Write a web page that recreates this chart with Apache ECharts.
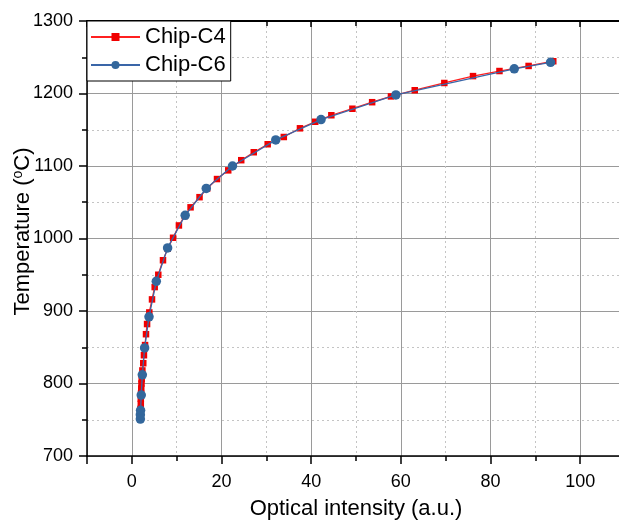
<!DOCTYPE html>
<html>
<head>
<meta charset="utf-8">
<script src="https://cdn.jsdelivr.net/npm/echarts@6/dist/echarts.min.js"></script>
<style>
html,body{margin:0;padding:0;background:#fff;}
#chart{width:619px;height:522px;}
</style>
</head>
<body>
<div id="chart"></div>
<script>
// ---- data ----
const seriesNames = ['Chip-C4', 'Chip-C6'];
const c4Intensity = [1.9,1.9,1.95,2.0,2.0,2.05,2.1,2.15,2.2,2.35,2.55,2.7,2.95,3.16,3.4,3.9,4.5,5.1,5.9,6.95,8.0,9.2,10.5,11.8,13.1,15.1,16.8,19.0,21.5,24.4,27.2,30.3,33.9,37.5,40.9,44.5,49.2,53.6,57.8,63.1,69.7,76.1,82.0,88.5,94.0];
const c4Temperature = [752,758,765,772,779,786,793,800,806,818,828,839,853,868,882,898,916,933,950,970,986,1001,1018,1031,1043,1057,1069,1082,1094,1108,1119,1130,1140,1152,1161,1170,1179,1188,1196,1204.5,1214.5,1224,1231,1238,1244.5];
const c6Intensity = [1.9,1.9,1.95,2.1,2.34,2.85,3.83,5.46,7.98,11.9,16.6,22.45,32.1,42.2,58.9,85.3,93.4];
const c6Temperature = [751,757,763,784,812,849,892,941,987,1032,1069,1100,1136,1164,1198,1234,1243];
const xRange = [-10, 110];
const yRange = [700, 1300];
const yTickStep = 100;
const xTitle = 'Optical intensity (a.u.)';

function zip(a, b) { return a.map((v, i) => [v, b[i]]); }

const FONT = 'Arial, "Liberation Sans", sans-serif';
const chart = echarts.init(document.getElementById('chart'), null, {renderer: 'canvas'});

const majorGrid = {show: true, lineStyle: {color: '#9a9a9a', width: 1}};
const minorGrid = {show: true, lineStyle: {color: '#c4c4c4', width: 1, type: [2, 3]}};

chart.setOption({
  animation: false,
  backgroundColor: '#ffffff',
  grid: {left: 87, top: 21, width: 538, height: 435, containLabel: false, outerBoundsMode: 'none'},
  legend: {
    orient: 'vertical',
    left: 87, top: 21,
    padding: [5, 5, 5, 3],
    itemGap: 6,
    itemWidth: 49,
    itemHeight: 10,
    backgroundColor: '#ffffff',
    borderColor: '#000000',
    borderWidth: 1,
    borderRadius: 0,
    textStyle: {fontFamily: FONT, fontSize: 22, color: '#000', lineHeight: 22},
    data: seriesNames
  },
  xAxis: [{
    type: 'value',
    position: 'bottom',
    min: xRange[0], max: xRange[1],
    splitNumber: 6,
    name: xTitle,
    nameLocation: 'middle',
    nameGap: 42,
    nameMoveOverlap: false,
    nameTextStyle: {fontFamily: FONT, fontSize: 22, color: '#000'},
    axisLine: {show: true, onZero: false, lineStyle: {color: '#000', width: 1.5}},
    axisTick: {show: true, inside: false, length: 8, lineStyle: {color: '#000', width: 1.5}},
    minorTick: {show: true, splitNumber: 2, length: 5, lineStyle: {color: '#000', width: 1.5}},
    axisLabel: {
      fontFamily: FONT, fontSize: 18, color: '#000', margin: 17,
      formatter: v => (v % 20 === 0 ? String(v) : '')
    },
    splitLine: majorGrid,
    minorSplitLine: minorGrid
  }, {
    type: 'value',
    position: 'top',
    min: xRange[0], max: xRange[1],
    splitNumber: 6,
    axisLine: {show: true, onZero: false, lineStyle: {color: '#000', width: 2}},
    axisTick: {show: true, inside: true, length: 6, lineStyle: {color: '#000', width: 1.5}},
    minorTick: {show: true, splitNumber: 2, length: 5, lineStyle: {color: '#000', width: 1.5}},
    axisLabel: {show: false},
    splitLine: {show: false}
  }],
  yAxis: [{
    type: 'value',
    min: yRange[0], max: yRange[1],
    interval: yTickStep,
    name: 'Temperature ({s|o}C)',
    nameLocation: 'middle',
    nameGap: 52,
    nameMoveOverlap: false,
    nameTextStyle: {
      fontFamily: FONT, fontSize: 22, color: '#000',
      padding: [0, 0, 0, 14],
      rich: {s: {fontFamily: FONT, fontSize: 14, color: '#000', padding: [0, 0, 10, 0]}}
    },
    axisLine: {show: true, onZero: false, lineStyle: {color: '#000', width: 1.5}},
    axisTick: {show: true, inside: false, length: 8, lineStyle: {color: '#000', width: 1.5}},
    minorTick: {show: true, splitNumber: 2, length: 5, lineStyle: {color: '#000', width: 1.5}},
    axisLabel: {fontFamily: FONT, fontSize: 18, color: '#000', margin: 14, formatter: v => String(v)},
    splitLine: majorGrid,
    minorSplitLine: minorGrid
  }],
  series: [{
    name: seriesNames[0],
    type: 'line',
    data: zip(c4Intensity, c4Temperature),
    symbol: 'rect',
    symbolSize: 6.5,
    showAllSymbol: true,
    lineStyle: {color: '#ff2020', width: 1.3},
    itemStyle: {color: '#f00000'},
    z: 2
  }, {
    name: seriesNames[1],
    type: 'line',
    data: zip(c6Intensity, c6Temperature),
    symbol: 'circle',
    symbolSize: 9.5,
    showAllSymbol: true,
    lineStyle: {color: '#3a66a8', width: 1.3},
    itemStyle: {color: '#33679c'},
    z: 3
  }]
});
</script>
</body>
</html>
